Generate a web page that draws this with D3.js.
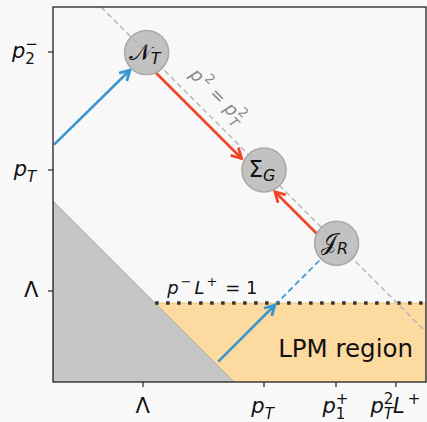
<!DOCTYPE html>
<html>
<head>
<meta charset="utf-8">
<script src="https://cdn.jsdelivr.net/npm/d3@7"></script>
<style>
  body { margin: 0; background: #f9f9f9; }
  text { font-family: "DejaVu Sans", sans-serif; }
</style>
</head>
<body>
<svg id="chart" width="427" height="422"></svg>
<script>
// log-momentum coordinates: Λ = 0, p_T = 1
const xDomain = [-0.744, 2.339];
const yDomain = [-0.752, 2.347];

const xTickVals = [0, 1, 1.595, 2.09];
const xTickLabels = [
  [{ t: 'Λ' }],
  [{ t: 'p', i: 1 }, { t: 'T', i: 1, sub: 1 }],
  [{ t: 'p', i: 1 }, { t: '1', sub: 1 }, { t: '+', sup: 1, back: 1 }],
  [{ t: 'p', i: 1 }, { t: '2', sup: 1 }, { t: 'T', i: 1, sub: 1, back: 1 }, { t: 'L', i: 1 }, { t: '+', sup: 1, gap: 3 }]
];
const yTickVals = [0, 1, 1.975];
const yTickLabels = [
  [{ t: 'Λ' }],
  [{ t: 'p', i: 1 }, { t: 'T', i: 1, sub: 1 }],
  [{ t: 'p', i: 1 }, { t: '2', sub: 1 }, { t: '−', sup: 1, back: 1 }]
];

const shellSum = 2;      // p^2 = p_T^2  ->  x + y = 2
const lambdaSum = 0;     // p^2 = Λ^2   ->  x + y = 0
const lpmY = -0.1;       // p^- L^+ = 1

const nodeNames = ['𝒩', 'Σ', '𝒥'];
const nodeSubs = ['T', 'G', 'R'];
const nodeX = [0.03, 1, 1.6];
const nodeY = [1.97, 1, 0.394];

const redFrom = [[0.1, 1.81], [1.435, 0.475]];
const redTo = [[0.815, 1.095], [1.09, 0.82]];
const blueFrom = [[-0.735, 1.21], [0.622, -0.584]];
const blueTo = [[-0.107, 1.826], [1.09, -0.116]];
const blueDashFrom = [1.09, -0.116];
const blueDashTo = [1.48, 0.274];

const W = 427, H = 422;
const mLeft = 53, mRight = 426, mTop = 7, mBottom = 382;
const RED = '#f2452b', BLUE = '#3a96cf';

const svg = d3.select('#chart');
const x = d3.scaleLinear().domain(xDomain).range([mLeft, mRight]);
const y = d3.scaleLinear().domain(yDomain).range([mBottom, mTop]);

svg.append('rect')
  .attr('x', 0).attr('y', 0).attr('width', W).attr('height', H)
  .attr('fill', '#f9f9f9');
svg.append('rect')
  .attr('x', mLeft).attr('y', mTop).attr('width', mRight - mLeft).attr('height', mBottom - mTop)
  .attr('fill', '#f8f8f8');

svg.append('clipPath').attr('id', 'clip')
  .append('rect')
  .attr('x', mLeft).attr('y', mTop).attr('width', mRight - mLeft).attr('height', mBottom - mTop);

const plot = svg.append('g').attr('clip-path', 'url(#clip)');
const line = d3.line().x(d => x(d[0])).y(d => y(d[1]));

// LPM region
const lpm = [
  [lambdaSum - lpmY, lpmY], [xDomain[1], lpmY],
  [xDomain[1], yDomain[0]], [lambdaSum - yDomain[0], yDomain[0]]
];
plot.append('path').attr('d', line(lpm) + 'Z')
  .attr('fill', '#fdda9f').attr('stroke', '#f7c77c').attr('stroke-width', 1);

// p^2 < Λ^2
const grayTri = [
  [xDomain[0], lambdaSum - xDomain[0]],
  [lambdaSum - yDomain[0], yDomain[0]],
  [xDomain[0], yDomain[0]]
];
plot.append('path').attr('d', line(grayTri) + 'Z')
  .attr('fill', '#c6c6c6').attr('stroke', '#a9a9a9').attr('stroke-width', 1);

// p^- L^+ = 1
plot.append('path')
  .attr('d', line([[lambdaSum - lpmY, lpmY], [xDomain[1], lpmY]]))
  .attr('stroke', '#333').attr('stroke-width', 3.5)
  .attr('stroke-dasharray', '3.5,7.5').attr('fill', 'none');

// p^2 = p_T^2
plot.append('path')
  .attr('d', line([[shellSum - yDomain[1], yDomain[1]], [xDomain[1], shellSum - xDomain[1]]]))
  .attr('stroke', '#b8b8b8').attr('stroke-width', 1.5)
  .attr('stroke-dasharray', '5.5,3.5').attr('fill', 'none');

// arrow heads
function marker (id, color) {
  svg.append('marker')
    .attr('id', id).attr('viewBox', '-11 -7 13 14')
    .attr('refX', 0).attr('refY', 0)
    .attr('markerWidth', 13).attr('markerHeight', 14)
    .attr('markerUnits', 'userSpaceOnUse')
    .attr('orient', 'auto')
    .append('path').attr('d', 'M-10,-5.5 L0,0 L-10,5.5')
    .attr('fill', 'none').attr('stroke', color).attr('stroke-width', 2.8)
    .attr('stroke-linejoin', 'miter');
}
marker('arrRed', RED);
marker('arrBlue', BLUE);

redFrom.forEach((f, i) => {
  plot.append('path').attr('d', line([f, redTo[i]]))
    .attr('stroke', RED).attr('stroke-width', 2.6).attr('fill', 'none')
    .attr('marker-end', 'url(#arrRed)');
});
blueFrom.forEach((f, i) => {
  plot.append('path').attr('d', line([f, blueTo[i]]))
    .attr('stroke', BLUE).attr('stroke-width', 2.6).attr('fill', 'none')
    .attr('marker-end', 'url(#arrBlue)');
});
plot.append('path').attr('d', line([blueDashFrom, blueDashTo]))
  .attr('stroke', BLUE).attr('stroke-width', 1.6).attr('fill', 'none')
  .attr('stroke-dasharray', '6,3.5');

// nodes
nodeX.forEach((nx, i) => {
  const cx = x(nx), cy = y(nodeY[i]);
  plot.append('circle').attr('cx', cx).attr('cy', cy).attr('r', 22)
    .attr('fill', '#b9b9b9').attr('fill-opacity', 0.85)
    .attr('stroke', '#a8a8a8').attr('stroke-width', 1.5);
  const t = plot.append('text').attr('x', cx - 2).attr('y', cy + 7)
    .attr('text-anchor', 'middle').attr('font-size', 23).attr('fill', '#111');
  t.append('tspan').text(nodeNames[i]);
  t.append('tspan').text(nodeSubs[i]).attr('font-style', 'italic')
    .attr('font-size', 16).attr('dy', 4);
});

// text annotations
plot.append('text').attr('transform', `translate(${x(0.58)},${y(1.58)}) rotate(45)`)
  .attr('text-anchor', 'middle').attr('fill', '#888').attr('font-size', 18)
  .call(t => {
    t.append('tspan').text('p').attr('font-style', 'italic');
    t.append('tspan').text('2').attr('font-size', 13).attr('dy', -8).attr('dx', 2);
    t.append('tspan').text(' = ').attr('dy', 8);
    t.append('tspan').text('p').attr('font-style', 'italic');
    t.append('tspan').text('2').attr('font-size', 13).attr('dy', -8).attr('dx', 1);
    t.append('tspan').text('T').attr('font-size', 13).attr('font-style', 'italic').attr('dx', -8).attr('dy', 14);
  });

svg.append('text').attr('x', x(0.2)).attr('y', y(lpmY) - 9)
  .attr('font-size', 18).attr('fill', '#111')
  .call(t => {
    t.append('tspan').text('p').attr('font-style', 'italic');
    t.append('tspan').text('−').attr('font-size', 13).attr('dy', -8).attr('dx', 2);
    t.append('tspan').text('L').attr('font-style', 'italic').attr('dy', 8).attr('dx', 3);
    t.append('tspan').text('+').attr('font-size', 13).attr('dy', -8).attr('dx', 2);
    t.append('tspan').text(' = 1').attr('dy', 8).attr('dx', 2);
  });

svg.append('text').attr('x', mRight - 13).attr('y', y(-0.545))
  .attr('text-anchor', 'end').attr('font-size', 24.5).attr('fill', '#111')
  .text('LPM region');

// spines
svg.append('rect')
  .attr('x', mLeft).attr('y', mTop).attr('width', mRight - mLeft).attr('height', mBottom - mTop)
  .attr('fill', 'none').attr('stroke', '#222').attr('stroke-width', 1.3);

// ticks
function mathLabel (g, parts, size) {
  const t = g.append('text').attr('font-size', size).attr('fill', '#111');
  let lastW = 0;
  let cur = 0;
  parts.forEach(p => {
    const s = t.append('tspan').text(p.t);
    if (p.i) s.attr('font-style', 'italic');
    let dy = 0;
    if (p.sub || p.sup) s.attr('font-size', size * 0.72);
    if (p.sub) dy = size * 0.3;
    if (p.sup) dy = -size * 0.42;
    s.attr('dy', dy - cur);
    cur = dy;
    if (p.back) s.attr('dx', -lastW);
    else if (p.gap) s.attr('dx', p.gap);
    lastW = (p.sub || p.sup) ? s.node().getComputedTextLength() : 0;
  });
  return t;
}

xTickVals.forEach((v, i) => {
  const px = x(v);
  svg.append('line').attr('x1', px).attr('x2', px).attr('y1', mBottom).attr('y2', mBottom + 5)
    .attr('stroke', '#222').attr('stroke-width', 1.2);
  const g = svg.append('g');
  const t = mathLabel(g, xTickLabels[i], 21);
  const w = t.node().getBBox().width;
  t.attr('x', px - w / 2).attr('y', mBottom + 31);
});

yTickVals.forEach((v, i) => {
  const py = y(v);
  svg.append('line').attr('x1', mLeft - 5).attr('x2', mLeft).attr('y1', py).attr('y2', py)
    .attr('stroke', '#222').attr('stroke-width', 1.2);
  const g = svg.append('g');
  const t = mathLabel(g, yTickLabels[i], 21);
  const w = t.node().getBBox().width;
  t.attr('x', mLeft - 14 - w).attr('y', py + 6);
});
</script>
</body>
</html>
